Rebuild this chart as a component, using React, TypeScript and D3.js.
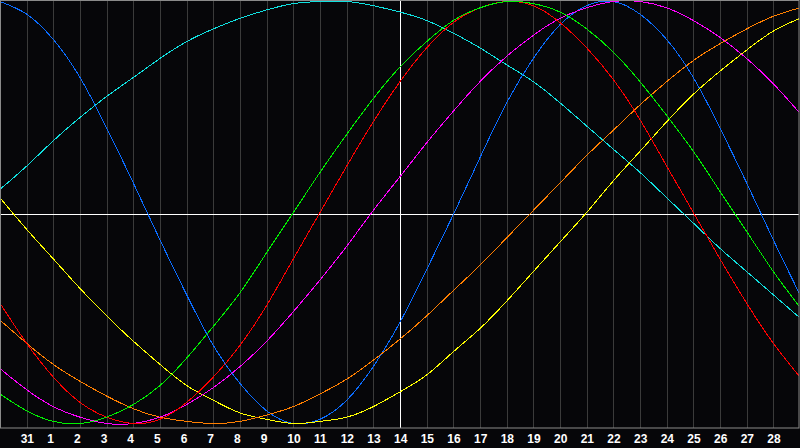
import React from "react";
import * as d3 from "d3";

// Day labels under grid lines 1..29 (grid line 0 = left edge, 30 = right edge)
const dayLabels = ["31", "1", "2", "3", "4", "5", "6", "7", "8", "9", "10", "11", "12", "13", "14",
  "15", "16", "17", "18", "19", "20", "21", "22", "23", "24", "25", "26", "27", "28"];
const todayIndex = 15; // "14"

// Values (-100..100) read at each grid position 0..30
const physical = [100, 94, 82, 64, 40, 14, -13, -39, -63, -81, -94, -100, -98, -89, -73, -52, -27, -1, 26, 52, 73, 89, 98, 100, 94, 82, 64, 40, 14, -13, -39];
const emotional = [-43, -62, -78, -90, -97, -100, -98, -90, -78, -63, -44, -22, 0, 22, 43, 62, 78, 90, 97, 100, 98, 90, 78, 63, 44, 22, 0, -22, -43, -62, -78];
const intellectual = [-86, -94, -99, -100, -97, -91, -82, -69, -54, -38, -19, 0, 19, 37, 54, 69, 81, 91, 97, 100, 99, 95, 87, 76, 62, 46, 29, 10, -9, -28, -45];
const intuitive = [-74, -84, -92, -97, -100, -100, -97, -91, -83, -73, -61, -47, -32, -16, 1, 17, 33, 48, 62, 74, 84, 92, 97, 100, 100, 97, 91, 83, 73, 61, 47];
const spiritual = [11, 22, 34, 45, 55, 64, 73, 81, 87, 92, 96, 99, 100, 100, 98, 95, 91, 85, 78, 70, 62, 52, 41, 30, 19, 7, -5, -17, -28, -39, -50];
const aesthetic = [7, -8, -22, -36, -49, -61, -72, -82, -89, -95, -98, -100, -99, -97, -92, -85, -77, -66, -55, -42, -28, -14, 0, 15, 29, 43, 56, 67, 77, 86, 92];
const awareness = [-51, -62, -72, -80, -87, -93, -97, -99, -100, -99, -96, -92, -86, -79, -70, -60, -49, -37, -25, -12, 1, 14, 27, 39, 51, 62, 72, 80, 87, 93, 97];

const seriesNames = ["spiritual", "physical", "aesthetic", "awareness", "intuitive", "emotional", "intellectual"];
const seriesValues = [spiritual, physical, aesthetic, awareness, intuitive, emotional, intellectual];
const seriesColors = ["#10e0e0", "#0a6cff", "#ffff00", "#ff7f00", "#ff00ff", "#ff0000", "#00f000"];

const W = 800;
const H = 448;
const plotRight = 799;
const plotBottom = 428;

export default function App() {
  const x = d3.scaleLinear().domain([0, 30]).range([0, 800]);
  const y = d3.scaleLinear().domain([-100, 100]).range([423.5, 1.5]);
  const line = d3
    .line<number>()
    .x((_, i) => x(i))
    .y((v) => y(v))
    .curve(d3.curveNatural);
  const gridIdx = d3.range(1, 30);

  return (
    <svg
      width={W}
      height={H}
      style={{ position: "fixed", left: 0, top: 0, display: "block", background: "#060609" }}
    >
      <defs>
        <clipPath id="plot">
          <rect x={1} y={1} width={plotRight - 1} height={plotBottom - 1} />
        </clipPath>
      </defs>
      <rect x={0} y={0} width={W} height={H} fill="#060609" />
      {gridIdx.map((k) => (
        <line
          key={k}
          x1={Math.round(x(k)) + 0.5}
          x2={Math.round(x(k)) + 0.5}
          y1={1}
          y2={plotBottom}
          stroke="#3a3a3a"
          strokeWidth={1}
        />
      ))}
      <line x1={0} x2={plotRight} y1={214.5} y2={214.5} stroke="#ffffff" strokeWidth={1} />
      <line
        x1={Math.round(x(todayIndex)) + 0.5}
        x2={Math.round(x(todayIndex)) + 0.5}
        y1={0}
        y2={plotBottom}
        stroke="#ffffff"
        strokeWidth={1}
      />
      <g clipPath="url(#plot)">
        {seriesValues.map((vals, i) => (
          <path
            key={seriesNames[i]}
            d={line(vals) || ""}
            fill="none"
            stroke={seriesColors[i]}
            strokeWidth={1}
            shapeRendering="crispEdges"
          />
        ))}
      </g>
      <rect
        x={0.5}
        y={0.5}
        width={plotRight - 0.5}
        height={plotBottom - 0.5}
        fill="none"
        stroke="#8a8a8a"
        strokeWidth={1}
      />
      {dayLabels.map((lab, i) => (
        <text
          key={i}
          x={x(i + 1) - 6}
          y={443}
          fill="#ffffff"
          fontFamily="'Liberation Sans', Arial, sans-serif"
          fontWeight="bold"
          fontSize={12}
        >
          {lab}
        </text>
      ))}
    </svg>
  );
}
